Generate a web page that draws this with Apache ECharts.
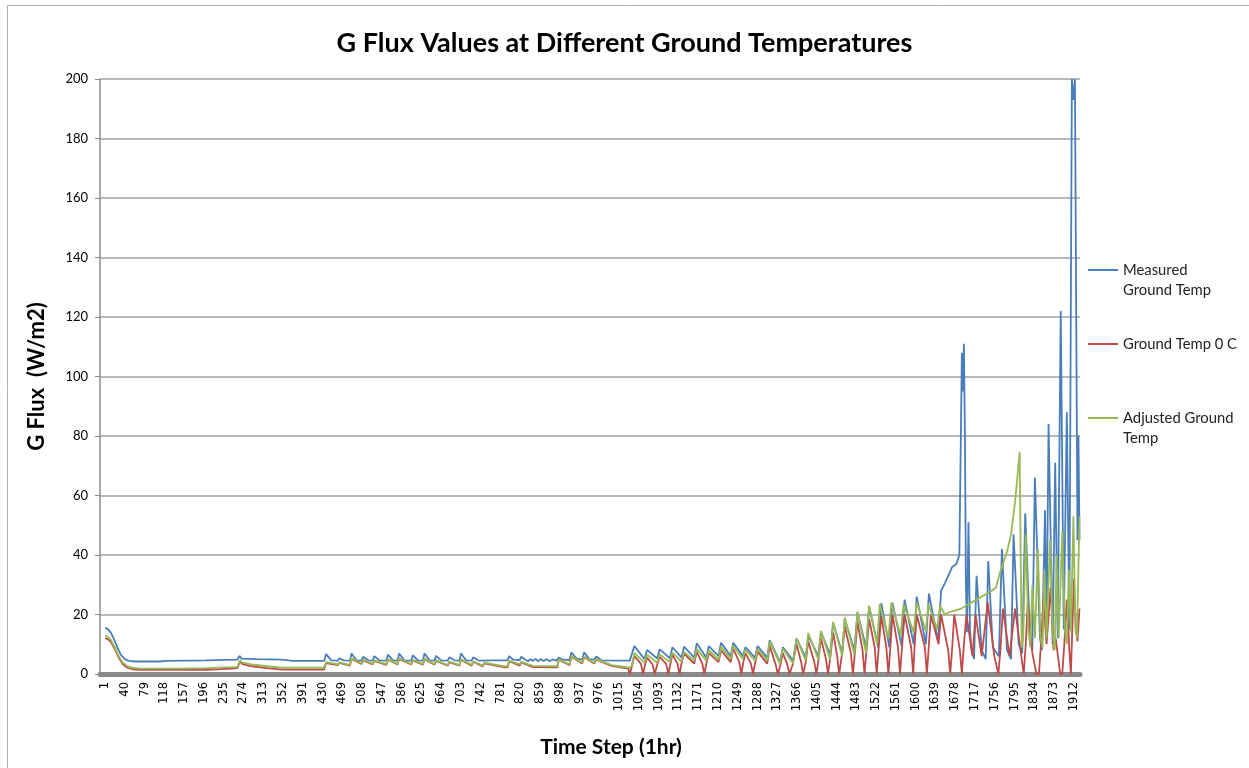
<!DOCTYPE html>
<html><head><meta charset="utf-8">
<script src="https://cdn.jsdelivr.net/npm/echarts@6/dist/echarts.min.js"></script>
<style>html,body{margin:0;padding:0;background:#fff}#c{width:1249px;height:768px}</style>
</head><body><div id="c"></div>
<script>
const tickLabels = [1,40,79,118,157,196,235,274,313,352,391,430,469,508,547,586,625,664,703,742,781,820,859,898,937,976,1015,1054,1093,1132,1171,1210,1249,1288,1327,1366,1405,1444,1483,1522,1561,1600,1639,1678,1717,1756,1795,1834,1873,1912];
const yTicks = [0,20,40,60,80,100,120,140,160,180,200];
const seriesNames = ['Measured Ground Temp','Ground Temp 0 C','Adjusted Ground Temp'];

const measured = [
[1,15.5],[6,15.2],[12,14],[18,12],[25,9],[32,6.5],[40,5],[48,4.4],[60,4.2],[110,4.2],[120,4.4],[200,4.6],[262,4.8],[266,6.1],[270,5.2],[300,5],[350,4.8],[370,4.4],[433,4.4],
[437,6.7],[447,4.6],[460,4.5],[463,5.3],[472,4.6],[484,4.5],[487,6.9],[497,4.6],[507,4.5],[510,5.8],[520,4.6],[529,4.5],[532,6.0],[542,4.6],[556,4.5],[559,6.5],[569,4.6],[578,4.5],[581,6.9],[591,4.6],[605,4.5],[608,6.3],[618,4.6],[628,4.5],[631,6.9],[641,4.6],[651,4.5],[654,6.1],[664,4.6],[677,4.5],[680,5.6],[690,4.6],[700,4.5],[703,6.9],[713,4.6],[724,4.5],[727,5.6],[737,4.6],[746,4.5],[749,5.0],[759,4.6],[795,4.6],[798,6.0],[806,4.8],[819,4.7],[822,5.8],[830,4.8],[836,4.3],[840,5.0],[845,4.4],[850,5.1],[855,4.3],[860,5.0],[866,4.4],[872,5.0],[878,4.3],[884,4.9],[891,4.5],[896,5.5],[904,4.8],[917,4.7],[921,7.2],[931,5.2],[942,4.8],[946,7.3],[956,5.0],[966,4.8],[970,5.9],[980,4.6],[1036,4.5],
[1045,9.4],[1065,5.0],[1070,8.1],[1090,5.2],[1095,8.3],[1115,5.3],[1120,9.0],[1138,5.5],[1143,9.2],[1163,5.5],[1168,10.3],[1187,5.5],[1192,9.4],[1211,6],[1216,10.5],[1235,6],[1240,10.5],[1259,6],[1264,9.0],[1283,5.5],[1288,9.4],[1307,5.5],[1312,11.4],[1332,4.0],[1338,9.0],[1358,4.5],[1365,12.0],[1383,5.5],[1388,12.8],[1408,6],[1413,14.2],[1431,6.5],[1437,17.2],[1455,7],[1460,18.4],[1479,8],[1485,20.6],[1502,9],[1508,22.6],[1526,9],[1532,23.8],[1548,9],[1554,24],[1572,9.5],[1578,25],[1596,10],[1602,26],[1620,10],[1626,27],[1644,11],[1650,28],[1656,30],[1664,33],[1672,36],[1680,37],[1686,40],[1689,80],[1691,108],[1693,95],[1695,111],[1697,80],[1699,30],[1701,14],[1704,51],[1707,15],[1710,8],[1715,5],[1720,33],[1730,8],[1738,5],[1743,38],[1752,9],[1764,6],[1770,42],[1780,8],[1788,5],[1793,47],[1803,10],[1810,7],[1816,54],[1826,10],[1830,8],[1835,66],[1845,12],[1849,8],[1855,55],[1858,12],[1862,84],[1870,10],[1875,71],[1880,12],[1886,122],[1892,15],[1898,88],[1903,15],[1908,200],[1911,193],[1914,200],[1917,200],[1919,45],[1921,80],[1923,45]
];

const ground0 = [
[1,12],[6,11.8],[12,10.8],[20,8.5],[28,5.5],[36,3.3],[45,2.1],[55,1.6],[70,1.4],[200,1.4],[250,1.8],[262,2.0],[267,4.2],[272,3.3],[290,2.6],[320,2.0],[350,1.5],[433,1.5],
[437,3.7],[460,3.0],[463,3.7],[484,2.8],[487,5.1],[507,3.4],[510,4.6],[529,3.2],[532,4.4],[556,3.1],[559,4.8],[578,3.2],[581,5.0],[605,3.2],[608,4.6],[628,3.1],[631,5.0],[651,3.1],[654,4.4],[677,2.8],[680,4.0],[700,2.8],[703,4.8],[724,2.8],[727,4.1],[746,2.5],[749,3.6],[790,2.2],[795,2.2],[798,4.3],[819,2.8],[822,3.9],[845,2.3],[893,2.2],[896,4.8],[917,3.0],[921,5.8],[942,3.5],[946,5.6],[966,3.5],[970,4.8],[1000,2.7],[1033,1.8],
[1036,0],[1040,2.5],[1045,6.0],[1058,3.5],[1062,0],[1066,3],[1070,5.5],[1081,3.2],[1085,0],[1090,3],[1095,5.8],[1108,3.3],[1112,0],[1116,3.3],[1120,6.5],[1130,3.5],[1134,0],[1138,3.5],[1143,6.8],[1163,3.5],[1168,7.5],[1179,3.5],[1183,0],[1187,3.5],[1192,7],[1211,4],[1216,8],[1235,4],[1240,8.5],[1252,4],[1256,0],[1260,4],[1264,7],[1275,3.5],[1279,0],[1283,3.5],[1288,7.5],[1307,3.5],[1312,9.5],[1324,3],[1328,0],[1333,3],[1338,7],[1347,3],[1351,0],[1357,3],[1365,10],[1374,4],[1378,0],[1383,4],[1388,11],[1400,4],[1404,0],[1408,4.5],[1413,12],[1423,5],[1427,0],[1431,5],[1437,14],[1445,6],[1449,0],[1454,6],[1460,16],[1472,7],[1476,0],[1480,7],[1485,17.5],[1495,8],[1499,0],[1503,8],[1508,18.5],[1519,9],[1523,0],[1527,9],[1532,19.5],[1542,9],[1546,0],[1550,9],[1554,20],[1565,9],[1569,0],[1573,9],[1578,20],[1591,9],[1595,0],[1598,10],[1602,20],[1618,9],[1622,0],[1626,10],[1630,20],[1645,10],[1650,20],[1664,8],[1668,0],[1672,9],[1676,20],[1687,8],[1691,0],[1695,10],[1700,20],[1712,6],[1718,20],[1730,6],[1742,24],[1755,6],[1759,3],[1763,0],[1767,8],[1772,22],[1785,6],[1796,22],[1809,5],[1813,0],[1817,10],[1821,24],[1830,7],[1838,0],[1843,0],[1847,10],[1852,25],[1858,10],[1866,29],[1872,8],[1876,12],[1885,0],[1889,0],[1893,10],[1898,25],[1903,8],[1906,0],[1908,0],[1912,32],[1916,15],[1919,11],[1923,22]
];

const adjusted = [
[1,12.8],[6,12.6],[12,11.5],[20,9],[28,6],[36,3.8],[45,2.6],[55,2.1],[70,1.8],[150,1.8],[200,2],[250,2.3],[262,2.4],[267,4.6],[272,3.8],[290,3.2],[320,2.6],[350,2.1],[433,2.1],
[437,4.0],[460,3.2],[463,3.9],[484,3.0],[487,5.3],[507,3.6],[510,4.8],[529,3.4],[532,4.6],[556,3.3],[559,5.0],[578,3.4],[581,5.2],[605,3.4],[608,4.8],[628,3.3],[631,5.2],[651,3.3],[654,4.6],[677,3.0],[680,4.2],[700,3.0],[703,5.0],[724,3.0],[727,4.3],[746,2.8],[749,3.8],[790,2.6],[795,2.6],[798,4.5],[819,3.2],[822,4.1],[845,2.7],[893,2.6],[896,5.0],[917,3.2],[921,6.0],[942,3.8],[946,5.8],[966,3.8],[970,5.0],[1000,3.0],[1036,2.1],
[1040,2.8],[1045,7.0],[1065,3.8],[1070,6.5],[1090,3.8],[1095,6.6],[1115,4.0],[1120,7.2],[1138,4.2],[1143,7.4],[1163,4.5],[1168,8.5],[1187,4.5],[1192,8.0],[1211,4.8],[1216,9.2],[1235,5],[1240,9.5],[1259,5],[1264,8.2],[1283,4.5],[1288,8.5],[1307,4.5],[1312,11.0],[1332,3.5],[1338,8.5],[1358,3.5],[1365,12.0],[1383,4.5],[1388,13.8],[1408,4.8],[1413,14.5],[1431,5],[1437,17.5],[1455,6],[1460,19.0],[1479,6.5],[1485,21.0],[1502,7],[1508,23.0],[1524,10],[1529,23.5],[1546,12],[1552,24],[1570,13],[1576,23.5],[1596,14],[1602,24],[1620,14.5],[1625,23.5],[1642,15],[1648,23],[1657,20],[1670,21],[1680,21.5],[1690,22],[1700,23],[1710,24],[1720,25],[1730,26],[1740,27],[1750,28],[1758,29],[1766,34],[1772,37],[1780,41],[1788,47],[1796,58],[1801,67],[1805,74.7],[1807,40],[1809,9],[1812,12],[1817,47],[1822,15],[1826,9],[1830,30],[1835,12],[1841,42],[1846,12],[1850,9],[1854,35],[1858,12],[1865,45],[1870,14],[1874,8],[1878,40],[1882,12],[1889,48],[1894,15],[1898,10],[1902,35],[1906,14],[1911,53],[1915,15],[1918,12],[1923,53]
];

const chart = echarts.init(document.getElementById('c'), null, {renderer:'canvas'});
const colors = ['#4A7EBB','#BE4B48','#98B954'];
const lineW = 1.8;
const twoLineIcon = 'path://M0,9L30,9L30,11L0,11Z M0,0L0.01,0L0.01,0.01L0,0.01Z M29.99,39.99L30,39.99L30,40L29.99,40Z';
const legendText = {fontFamily:'Lato',fontSize:14.8,color:'#222',lineHeight:20};
chart.setOption({
  animation:false,
  backgroundColor:'#ffffff',
  title:{text:'G Flux Values at Different Ground Temperatures',left:'center',top:25,
    textStyle:{fontFamily:'Lato',fontWeight:'bold',fontSize:27,color:'#000'}},
  grid:{left:100,right:169,top:79,bottom:94,containLabel:false},
  legend:[
    {orient:'vertical',left:1088,top:260,padding:0,itemWidth:30,itemHeight:40,icon:twoLineIcon,itemGap:4,
     data:[{name:seriesNames[0]}],
     formatter:function(){return 'Measured\nGround Temp';},
     textStyle:legendText},
    {orient:'vertical',left:1088,top:334,padding:0,itemWidth:30,itemHeight:2,icon:'rect',itemGap:4,
     data:[{name:seriesNames[1]}],
     textStyle:legendText},
    {orient:'vertical',left:1088,top:408,padding:0,itemWidth:30,itemHeight:40,icon:twoLineIcon,itemGap:4,
     data:[{name:seriesNames[2]}],
     formatter:function(){return 'Adjusted Ground\nTemp';},
     textStyle:legendText}
  ],
  xAxis:{type:'value',min:-9,max:1924,
    name:'Time Step (1hr)',nameLocation:'middle',nameGap:63,
    nameTextStyle:{fontFamily:'Lato',fontWeight:'bold',fontSize:21,color:'#000',padding:[0,0,0,42]},
    axisLine:{show:true,onZero:false,lineStyle:{color:'#8a8a8a',width:5}},
    axisTick:{show:false},
    splitLine:{show:false},
    axisLabel:{customValues:tickLabels,rotate:90,margin:8,fontFamily:'DejaVu Sans',fontSize:11.5,color:'#000',
      formatter:function(v){return String(v);}}
  },
  yAxis:{type:'value',min:0,max:200,interval:20,
    name:'G Flux  (W/m2)',nameLocation:'middle',nameGap:52,
    nameTextStyle:{fontFamily:'Lato',fontWeight:'bold',fontSize:22,color:'#000'},
    axisLine:{show:true,onZero:false,lineStyle:{color:'#8c8c8c',width:1.5}},
    axisTick:{show:true,inside:false,length:5,lineStyle:{color:'#8c8c8c',width:1}},
    axisLabel:{customValues:yTicks,margin:12,fontFamily:'Lato',fontSize:13,color:'#000'},
    splitLine:{show:true,lineStyle:{color:'#a0a0a0',width:1.5}}
  },
  series:[
    {name:seriesNames[0],type:'line',data:measured,showSymbol:false,color:colors[0],lineStyle:{width:lineW,color:colors[0]},z:3},
    {name:seriesNames[1],type:'line',data:ground0,showSymbol:false,color:colors[1],lineStyle:{width:lineW,color:colors[1]},z:4},
    {name:seriesNames[2],type:'line',data:adjusted,showSymbol:false,color:colors[2],lineStyle:{width:lineW,color:colors[2]},z:5}
  ],
  graphic:[{type:'rect',shape:{x:7.5,y:5.5,width:1300,height:800},style:{fill:'none',stroke:'#b0b0b0',lineWidth:1},silent:true,z:-1}]
});
</script></body></html>
